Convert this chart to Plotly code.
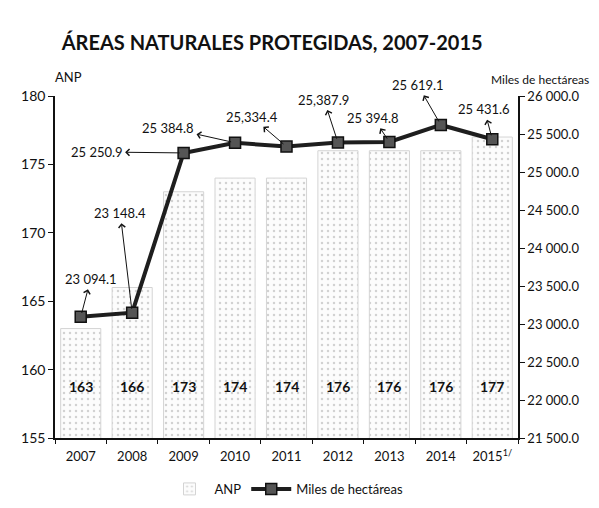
import plotly.graph_objects as go

years = ["2007", "2008", "2009", "2010", "2011", "2012", "2013", "2014", "2015<sup>1/</sup>"]
anp = [163, 166, 173, 174, 174, 176, 176, 176, 177]
hectareas = [23094.1, 23148.4, 25250.9, 25384.8, 25334.4, 25387.9, 25394.8, 25619.1, 25431.6]
hect_labels = ["23 094.1", "23 148.4", "25 250.9", "25 384.8", "25,334.4",
               "25,387.9", "25 394.8", "25 619.1", "25 431.6"]
label_offsets = [(10, -38), (-12, -100), (-87, -1), (-67, -15), (-35, -30),
                 (-14, -43), (-16, -24), (-23, -40), (-8, -30)]

FONT = "Lato"

fig = go.Figure()
fig.add_trace(go.Bar(
    x=years, y=anp, name="ANP", yaxis="y",
    marker=dict(color="#fafafa",
                pattern=dict(shape=".", fgcolor="#a8a8a8", bgcolor="#fcfcfc", size=6, solidity=0.14),
                line=dict(color="#d4d4d4", width=1)),
    width=0.78,
))
fig.add_trace(go.Scatter(
    x=years, y=hectareas, name="Miles de hectáreas", yaxis="y2",
    mode="lines+markers",
    line=dict(color="#1e1e1e", width=4),
    marker=dict(symbol="square", size=11, color="#555555", line=dict(color="#111111", width=1.5)),
))

annotations = []
# category axes take annotation positions as serial numbers of the categories
for i, v in enumerate(anp):
    annotations.append(dict(x=i, y=158.8, xref="x", yref="y", text=f"<b>{v}</b>",
                            showarrow=False, font=dict(family=FONT, size=14, color="#111")))
for i, (v, t, (ax, ay)) in enumerate(zip(hectareas, hect_labels, label_offsets)):
    annotations.append(dict(x=i, y=v, xref="x", yref="y2", text=t,
                            showarrow=True, ax=ax, ay=ay,
                            arrowside="start", startarrowhead=4, startarrowsize=1.3,
                            arrowwidth=1, arrowcolor="#111", standoff=4, startstandoff=1,
                            font=dict(family=FONT, size=13, color="#111")))
annotations.append(dict(x=-0.004, y=1.057, xref="paper", yref="paper", text="ANP",
                        showarrow=False, xanchor="left", yanchor="middle",
                        font=dict(family=FONT, size=13, color="#111")))
annotations.append(dict(x=0.938, y=1.049, xref="paper", yref="paper", text="Miles de hectáreas",
                        showarrow=False, xanchor="left", yanchor="middle",
                        font=dict(family=FONT, size=12, color="#111")))

fig.update_layout(
    width=599, height=508,
    margin=dict(l=47, r=89, t=88, b=70),
    paper_bgcolor="white", plot_bgcolor="white",
    separators=". ",
    font=dict(family=FONT, size=13, color="#111"),
    title=dict(text="<b>ÁREAS NATURALES PROTEGIDAS, 2007-2015</b>",
               x=0.441, xanchor="center", y=0.931, yanchor="middle",
               font=dict(family=FONT, size=20, color="#111")),
    xaxis=dict(type="category", categoryorder="array", categoryarray=years,
               range=[-0.5, len(years) - 0.5],
               showline=True, linecolor="#111", linewidth=1.5,
               ticks="outside", tickson="boundaries", ticklen=4, tickcolor="#111",
               ticklabelstandoff=6,
               showgrid=False, tickfont=dict(family=FONT, size=13)),
    yaxis=dict(range=[155, 180], dtick=5, tick0=155, showline=True, linecolor="#111", linewidth=1.5,
               ticks="outside", ticklen=5, tickcolor="#111", showgrid=False, zeroline=False,
               tickfont=dict(family=FONT, size=14)),
    yaxis2=dict(range=[21500, 26000], dtick=500, tick0=21500, overlaying="y", side="right",
                showline=True, linecolor="#111", linewidth=1.5, tickformat=",.1f",
                ticks="outside", ticklen=5, tickcolor="#111", showgrid=False, zeroline=False,
                tickfont=dict(family=FONT, size=13)),
    legend=dict(orientation="h", x=0.5, xanchor="center", y=-0.149, yanchor="middle",
                font=dict(family=FONT, size=13), itemwidth=40, bgcolor="rgba(0,0,0,0)"),
    annotations=annotations,
    bargap=0.22,
)

fig.write_html("out.html")
